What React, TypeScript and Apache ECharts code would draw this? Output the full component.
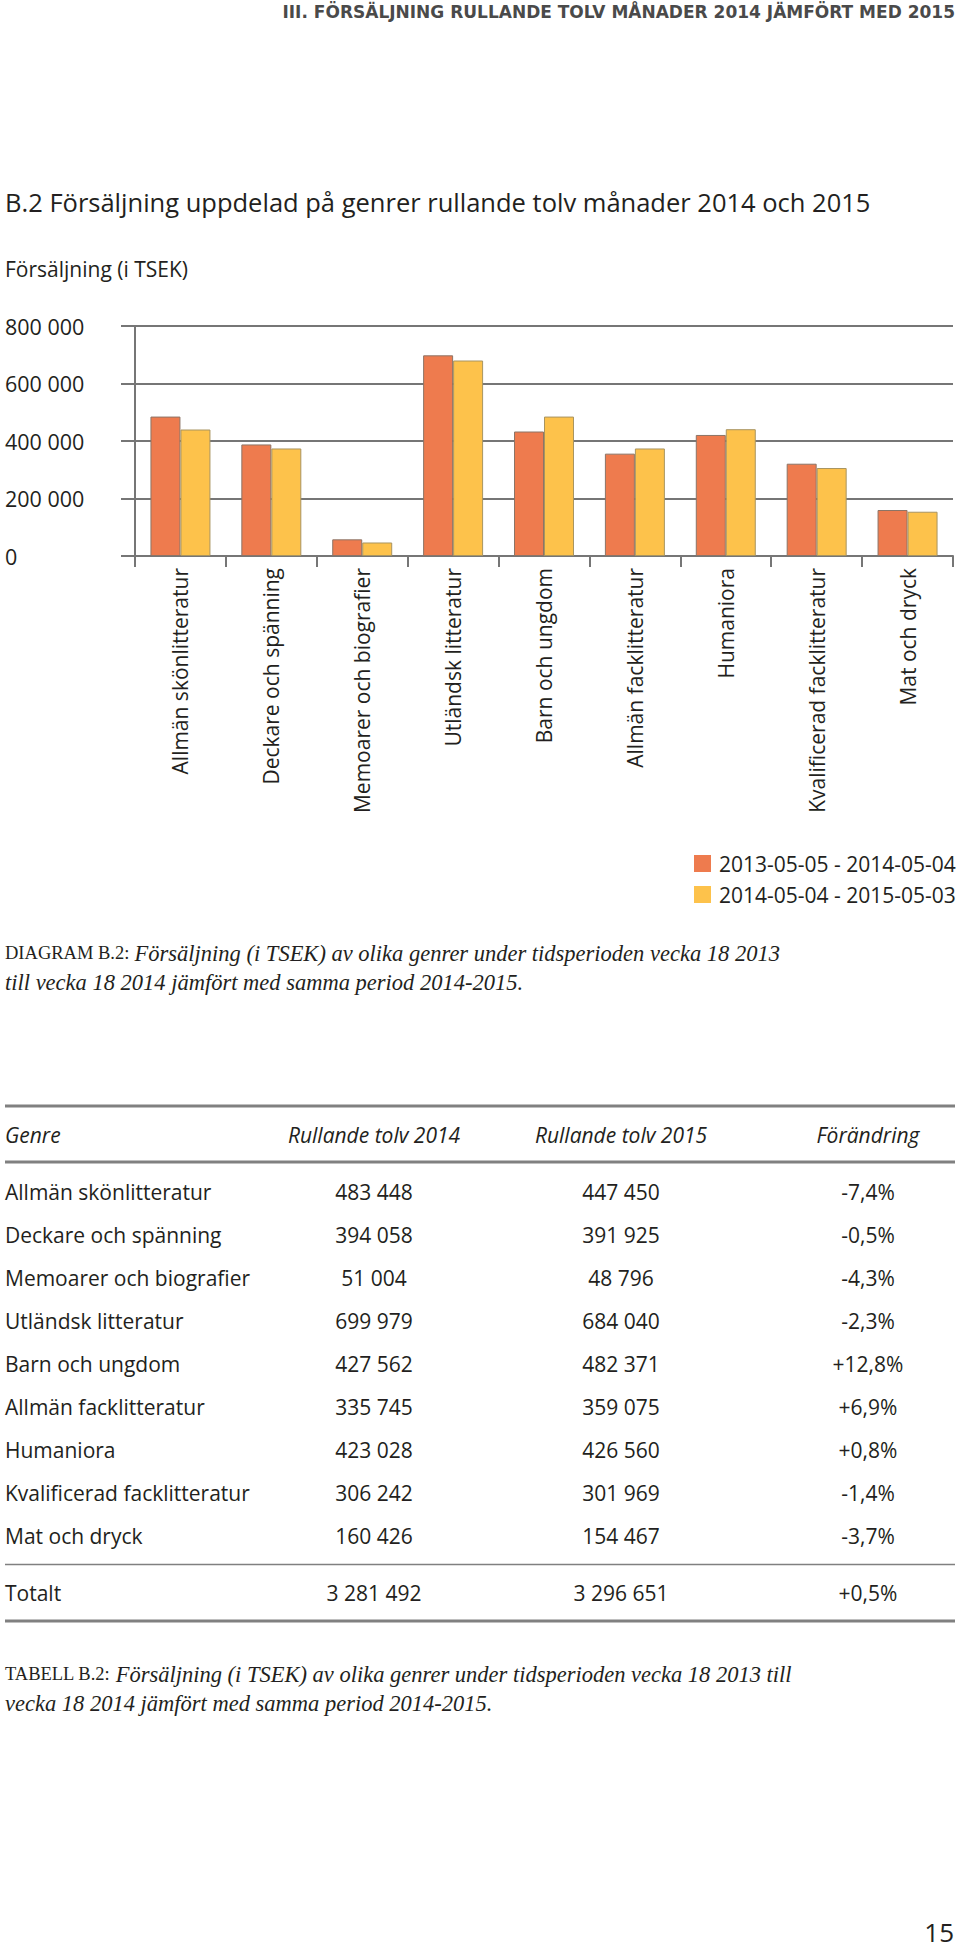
import React, { useEffect, useRef } from "react";
import * as echarts from "echarts";

const pageHeader = "III. FÖRSÄLJNING RULLANDE TOLV MÅNADER 2014 JÄMFÖRT MED 2015";
const chartTitle = "B.2 Försäljning uppdelad på genrer rullande tolv månader 2014 och 2015";
const yAxisTitle = "Försäljning (i TSEK)";
const genres = [
  "Allmän skönlitteratur",
  "Deckare och spänning",
  "Memoarer och biografier",
  "Utländsk litteratur",
  "Barn och ungdom",
  "Allmän facklitteratur",
  "Humaniora",
  "Kvalificerad facklitteratur",
  "Mat och dryck",
];
// bar heights as drawn in the diagram
const bars2014 = [485000, 388000, 58000, 698000, 433000, 356000, 421000, 321000, 160000];
const bars2015 = [440000, 374000, 47000, 680000, 485000, 374000, 441000, 306000, 154000];
// values as printed in the table
const sales2014 = [483448, 394058, 51004, 699979, 427562, 335745, 423028, 306242, 160426];
const sales2015 = [447450, 391925, 48796, 684040, 482371, 359075, 426560, 301969, 154467];
const changes = ["-7,4%", "-0,5%", "-4,3%", "-2,3%", "+12,8%", "+6,9%", "+0,8%", "-1,4%", "-3,7%"];
const totalLabel = "Totalt";
const total2014 = 3281492;
const total2015 = 3296651;
const totalChange = "+0,5%";
const seriesNames = ["2013-05-05 - 2014-05-04", "2014-05-04 - 2015-05-03"];
const yMax = 800000;
const yInterval = 200000;
const tableHeaders = ["Genre", "Rullande tolv 2014", "Rullande tolv 2015", "Förändring"];
const diagramCaption = ["Försäljning (i TSEK) av olika genrer under tidsperioden vecka 18 2013", "till vecka 18 2014 jämfört med samma period 2014-2015."];
const tableCaption = ["Försäljning (i TSEK) av olika genrer under tidsperioden vecka 18 2013 till", "vecka 18 2014 jämfört med samma period 2014-2015."];
const pageNumber = "15";

const SANS = "'Open Sans', 'Noto Sans', sans-serif";
const SERIF = "'Liberation Serif', 'DejaVu Serif', serif";
const INK = "#231f20";
const GRID = "#767676";
const ORANGE = "#ee7b4e";
const YELLOW = "#fdc24b";

const fmt = (n: number) => String(n).replace(/\B(?=(\d{3})+(?!\d))/g, " ");

export default function App() {
  const ref = useRef<HTMLDivElement>(null);
  useEffect(() => {
    if (!ref.current) return;
    const chart = echarts.init(ref.current, null, { renderer: "svg" });

    const colX = [5, 374, 621, 868];
    const rowY0 = 1192;
    const rowStep = 43;
    const tableFont = 21;
    const graphics: any[] = [];
    const txt = (x: number, y: number, text: string, opts: any = {}) => {
      graphics.push({
        type: "text",
        x,
        y,
        z: 10,
        style: {
          text,
          fontFamily: SANS,
          fontSize: tableFont,
          fill: INK,
          align: "left",
          verticalAlign: "middle",
          ...opts,
        },
      });
    };
    const rule = (y: number, h: number) => {
      graphics.push({ type: "rect", z: 10, shape: { x: 5, y: y - h / 2, width: 950, height: h }, style: { fill: "#808080" } });
    };

    // page header, titles
    txt(955, 12, pageHeader, { align: "right", fontSize: 17, fontWeight: "bold", fill: "#4a4a4a", fontFamily: "'DejaVu Sans', sans-serif" });
    txt(5, 202, chartTitle, { fontSize: 25.5 });
    txt(5, 269, yAxisTitle, { fontSize: 21 });

    // diagram caption
    const capRich = {
      sc: { fontFamily: SERIF, fontSize: 18.5, fill: INK },
      it: { fontFamily: SERIF, fontSize: 22.5, fontStyle: "italic", fill: INK },
    };
    txt(5, 953, `{sc|DIAGRAM B.2:} {it|${diagramCaption[0]}}`, { rich: capRich, fontFamily: SERIF });
    txt(5, 982, `{it|${diagramCaption[1]}}`, { rich: capRich, fontFamily: SERIF });

    // table
    rule(1106, 3);
    tableHeaders.forEach((h, i) => {
      txt(colX[i], 1135, h, { align: i === 0 ? "left" : "center", fontStyle: "italic" });
    });
    rule(1162, 3);
    genres.forEach((g, r) => {
      const y = rowY0 + r * rowStep;
      txt(colX[0], y, g);
      txt(colX[1], y, fmt(sales2014[r]), { align: "center" });
      txt(colX[2], y, fmt(sales2015[r]), { align: "center" });
      txt(colX[3], y, changes[r], { align: "center" });
    });
    rule(1564.5, 1.5);
    txt(colX[0], 1593, totalLabel);
    txt(colX[1], 1593, fmt(total2014), { align: "center" });
    txt(colX[2], 1593, fmt(total2015), { align: "center" });
    txt(colX[3], 1593, totalChange, { align: "center" });
    rule(1621, 3);

    txt(5, 1674, `{sc|TABELL B.2:} {it|${tableCaption[0]}}`, { rich: capRich, fontFamily: SERIF });
    txt(5, 1703, `{it|${tableCaption[1]}}`, { rich: capRich, fontFamily: SERIF });

    txt(954, 1932, pageNumber, { align: "right", fontSize: 26, lineHeight: 26 });

    const axisLineStyle = { color: GRID, width: 2 };
    chart.setOption({
      animation: false,
      textStyle: { fontFamily: SANS },
      grid: { left: 135, right: 7, top: 326, height: 230, containLabel: false },
      legend: {
        orient: "vertical",
        left: 689,
        top: 848,
        itemWidth: 17,
        itemHeight: 17,
        itemGap: 10,
        icon: "rect",
        itemStyle: { borderWidth: 0 },
        textStyle: { fontSize: 21, color: INK, fontFamily: SANS, lineHeight: 18, padding: [0, 0, 0, 3] },
        data: seriesNames,
      },
      xAxis: {
        type: "category",
        data: genres,
        axisLine: { show: true, lineStyle: axisLineStyle },
        axisTick: { show: true, length: 11, interval: 0, lineStyle: axisLineStyle },
        axisLabel: { rotate: 90, interval: 0, margin: 12, fontSize: 21, color: INK, fontFamily: SANS },
        splitLine: { show: false },
      },
      yAxis: {
        type: "value",
        min: 0,
        max: yMax,
        interval: yInterval,
        axisLine: { show: true, lineStyle: axisLineStyle },
        axisTick: { show: true, length: 14, lineStyle: axisLineStyle },
        splitLine: { show: true, lineStyle: axisLineStyle },
        axisLabel: {
          align: "left",
          margin: 130,
          fontSize: 21.5,
          color: INK,
          fontFamily: SANS,
          formatter: (v: number) => fmt(v),
        },
      },
      series: [
        {
          name: seriesNames[0],
          type: "bar",
          data: bars2014,
          barGap: "0%",
          barCategoryGap: "34%",
          itemStyle: { color: ORANGE, borderColor: "#8c7466", borderWidth: 1 },
        },
        {
          name: seriesNames[1],
          type: "bar",
          data: bars2015,
          barGap: "0%",
          barCategoryGap: "34%",
          itemStyle: { color: YELLOW, borderColor: "#a89460", borderWidth: 1 },
        },
      ],
      graphic: graphics,
    });
    return () => chart.dispose();
  }, []);
  return (
    <div
      ref={ref}
      style={{ position: "absolute", left: 0, top: 0, width: 960, height: 1950, background: "#fff" }}
    />
  );
}
